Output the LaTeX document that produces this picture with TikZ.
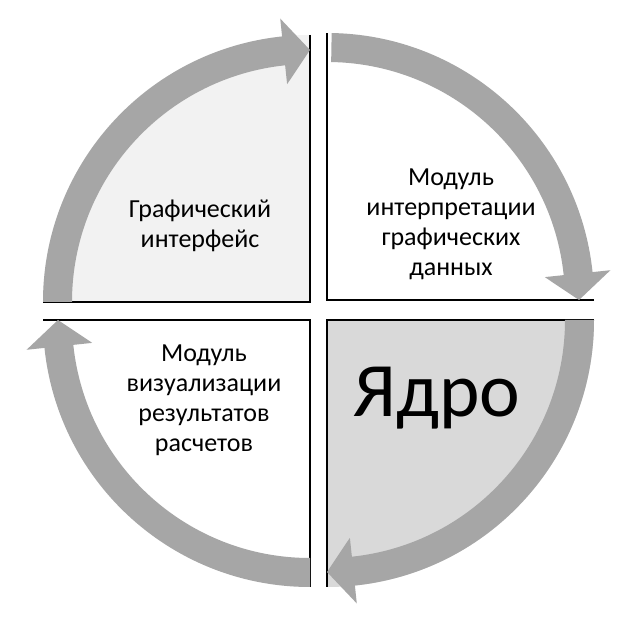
\documentclass[tikz,border=0pt]{standalone}
\usepackage{fontspec}
\setmainfont{Carlito}
\usetikzlibrary{calc}
\definecolor{bandgray}{HTML}{A6A6A6}
\definecolor{tlfill}{HTML}{F2F2F2}
\definecolor{brfill}{HTML}{D9D9D9}
\newcommand\myband[3]{% center, start angle, end angle (clockwise)
  \pgfmathsetmacro\bb{#3+6}
  \fill[bandgray] ($(#1)+(#2:267)$) arc[start angle=#2,end angle=\bb,radius=267]
    -- ($(#1)+(\bb:285)$) -- ($(#1)+(#3:252)$) -- ($(#1)+(\bb:219)$)
    -- ($(#1)+(\bb:238)$) arc[start angle=\bb,end angle=#2,radius=238] -- cycle;}
\newcommand\mysector[4]{% center, fill, start angle, end angle
  \fill[#2] (#1) -- ($(#1)+(#3:267)$) arc[start angle=#3,end angle=#4,radius=267] -- cycle;
  \draw[line width=1.3pt] ($(#1)+(#3:267)$) -- (#1) -- ($(#1)+(#4:267)$);}
\begin{document}
\begin{tikzpicture}[x=1pt,y=1pt,txt/.style={align=center,font=\fontsize{26}{30}\selectfont}]
\useasboundingbox (0,0) rectangle (635,624);
\fill[white] (0,0) rectangle (635,624);
\coordinate (TL) at (310,322);
\coordinate (TR) at (327,324);
\coordinate (BR) at (327,304);
\coordinate (BL) at (310,304);
\mysector{TL}{tlfill}{90}{180}
\mysector{TR}{white}{0}{90}
\mysector{BR}{brfill}{-90}{0}
\mysector{BL}{white}{180}{270}
\myband{TL}{180}{90}
\myband{TR}{89}{0}
\myband{BR}{0}{-90}
\myband{BL}{-90}{-180}
\node[txt] (t1) at (200,398) {Графический\\интерфейс};
\node[txt] (t2) at (451,400) {Модуль\\интерпретации\\графических\\данных};
\node[txt] (t3) at (204,224) {Модуль\\визуализации\\результатов\\расчетов};
\node[font=\fontsize{77}{80}\selectfont] (t4) at (437,226) {Ядро};
\end{tikzpicture}
\end{document}
